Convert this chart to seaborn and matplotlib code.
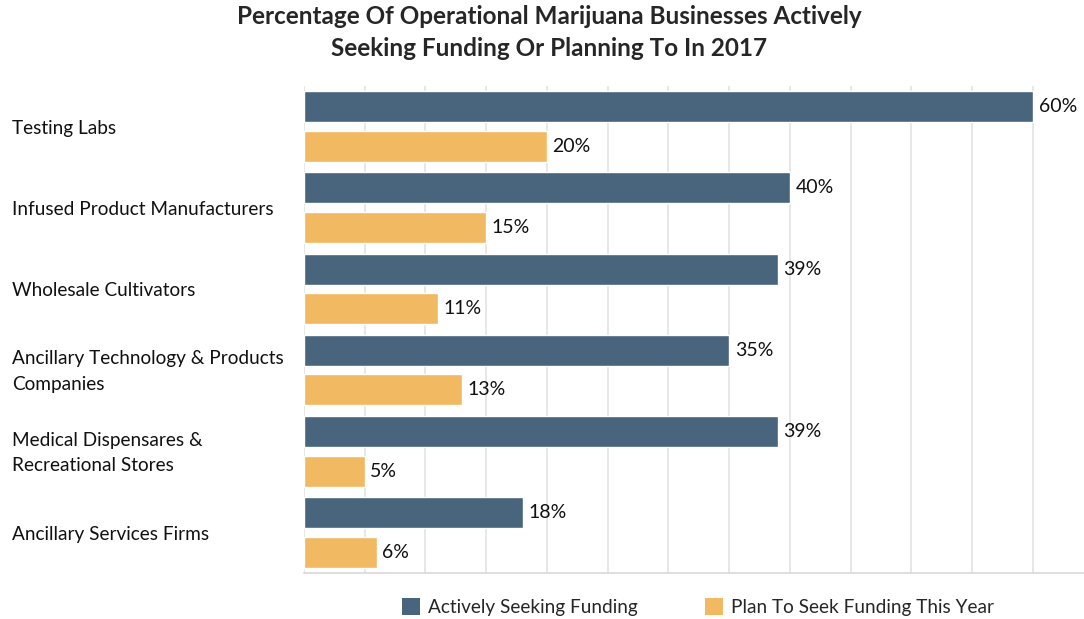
import matplotlib
matplotlib.use("Agg")
import matplotlib.pyplot as plt
from matplotlib.patches import Patch
from matplotlib.transforms import blended_transform_factory
import seaborn as sns
import pandas as pd

categories = [
    "Testing Labs",
    "Infused Product Manufacturers",
    "Wholesale Cultivators",
    "Ancillary Technology & Products\nCompanies",
    "Medical Dispensares &\nRecreational Stores",
    "Ancillary Services Firms",
]
actively_seeking = [60, 40, 39, 35, 39, 18]
plan_to_seek = [20, 15, 11, 13, 5, 6]
series_names = ["Actively Seeking Funding", "Plan To Seek Funding This Year"]
colors = ["#48657D", "#F0B962"]

df = pd.DataFrame({
    "category": categories * 2,
    "value": actively_seeking + plan_to_seek,
    "series": [series_names[0]] * len(categories) + [series_names[1]] * len(categories),
})

sns.set_theme(style="white")
plt.rcParams["font.family"] = ["Lato", "DejaVu Sans"]

fig = plt.figure(figsize=(10.84, 6.19), dpi=100)
ax = fig.add_axes([304 / 1084, 1 - 573 / 619, 780 / 1084, (573 - 86) / 619])

sns.barplot(data=df, y="category", x="value", hue="series", order=categories,
            hue_order=series_names, palette=colors, orient="h",
            width=0.98, gap=0.22, saturation=1, legend=False, ax=ax)

ax.set_xlim(0, 64.2)
ax.set_ylim(len(categories) - 0.5, -0.5)
ax.set_xticks(range(0, 65, 5))
ax.set_xticklabels([])
ax.set_yticklabels([])
ax.set_xlabel("")
ax.set_ylabel("")
ax.tick_params(length=0)
ax.grid(axis="x", color="#E3E3E3", linewidth=1.2)
ax.set_axisbelow(True)
for side in ["top", "right", "left"]:
    ax.spines[side].set_visible(False)
ax.spines["bottom"].set_color("#D9D9D9")
ax.spines["bottom"].set_linewidth(1.2)

# value labels at the bar ends
for container in ax.containers:
    ax.bar_label(container, labels=[f"{v:.0f}%" for v in container.datavalues],
                 padding=4, fontsize=14, color="#111111")

# category names, left aligned in the margin
label_tf = blended_transform_factory(fig.transFigure, ax.transData)
for i, name in enumerate(categories):
    ax.text(12 / 1084, i + 0.02, name, transform=label_tf,
            ha="left", va="center", fontsize=13.7, color="#111111", linespacing=1.62)

fig.suptitle("Percentage Of Operational Marijuana Businesses Actively\nSeeking Funding Or Planning To In 2017",
             x=549 / 1084, y=1 - 5 / 619, fontsize=17.5, fontweight="bold", linespacing=1.45,
             va="top")

handles = [Patch(facecolor=c, edgecolor="none") for c in colors]
fig.legend(handles, series_names, loc="center", bbox_to_anchor=(698 / 1084, 1 - 607 / 619),
           ncol=2, frameon=False, fontsize=13.7, handlelength=0.95, handleheight=0.95,
           handletextpad=0.45, columnspacing=3.5)

fig.savefig("out.png", dpi=100)
